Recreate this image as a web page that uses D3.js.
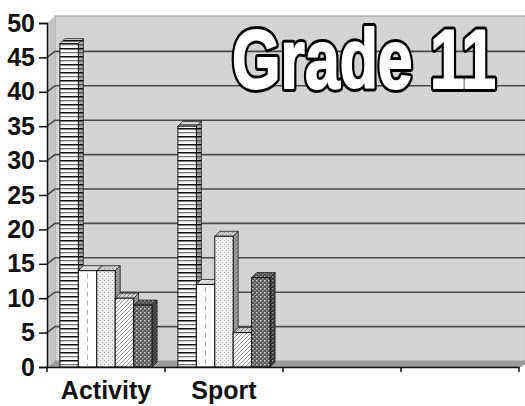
<!DOCTYPE html>
<html>
<head>
<meta charset="utf-8">
<script src="https://cdn.jsdelivr.net/npm/d3@7"></script>
<style>
  body { margin: 0; background: #fff; }
  text { font-family: "Liberation Sans", Arial, sans-serif; }
</style>
</head>
<body>
<div id="chart"></div>
<script>
// Data
var categories = ['Activity', 'Sport', ' ', '  '];
var seriesNames = ['s1', 's2', 's3', 's4', 's5'];
var activityValues = [47, 14, 14, 10, 9];
var sportValues = [35, 12, 19, 5, 13];
var yTicks = [0, 5, 10, 15, 20, 25, 30, 35, 40, 45, 50];
var chartTitle = 'Grade 11';

var dataset = [
  { cat: categories[0], values: activityValues },
  { cat: categories[1], values: sportValues }
];

// Chart Size
var width = 525;
var height = 406;
var plotLeft = 47, plotRight = 519, plotBottom = 367, plotTop = 23;
var wallDx = 8, wallDy = -6;
var barDx = 5, barDy = -5;

var xScale = d3.scaleBand()
               .domain(categories)
               .range([plotLeft, plotRight]);
var x1 = d3.scaleBand()
           .domain(seriesNames)
           .range([0, xScale.bandwidth()])
           .paddingOuter(0.7);
var yScale = d3.scaleLinear()
               .domain([0, 50])
               .range([plotBottom, plotTop]);

var chart = d3.select('#chart')
              .append('svg')
              .attr('width', width)
              .attr('height', height);

// Patterns
var defs = chart.append('defs');

var wall = defs.append('pattern').attr('id', 'wall')
  .attr('patternUnits', 'userSpaceOnUse').attr('width', 2).attr('height', 2);
wall.append('rect').attr('width', 2).attr('height', 2).attr('fill', '#d6d6d6');
wall.append('rect').attr('width', 1).attr('height', 1).attr('fill', '#cdcdcd');

var p1 = defs.append('pattern').attr('id', 'p1')
  .attr('patternUnits', 'userSpaceOnUse').attr('width', 4).attr('height', 8);
p1.append('rect').attr('width', 4).attr('height', 8).attr('fill', '#fff');
p1.append('rect').attr('y', 0).attr('width', 4).attr('height', 1.5).attr('fill', '#111');
p1.append('rect').attr('y', 4).attr('width', 4).attr('height', 1.3).attr('fill', '#777');

var p3 = defs.append('pattern').attr('id', 'p3')
  .attr('patternUnits', 'userSpaceOnUse').attr('width', 4).attr('height', 4);
p3.append('rect').attr('width', 4).attr('height', 4).attr('fill', '#ececec');
p3.append('rect').attr('x', 0).attr('y', 0).attr('width', 1).attr('height', 1).attr('fill', '#aaa');
p3.append('rect').attr('x', 2).attr('y', 2).attr('width', 1).attr('height', 1).attr('fill', '#bbb');

var p4 = defs.append('pattern').attr('id', 'p4')
  .attr('patternUnits', 'userSpaceOnUse').attr('width', 4).attr('height', 4);
p4.append('rect').attr('width', 4).attr('height', 4).attr('fill', '#fafafa');
p4.append('path').attr('d', 'M-1,5 L5,-1 M-1,1 L1,-1 M3,5 L5,3')
  .attr('stroke', '#999').attr('stroke-width', 1);

var p5 = defs.append('pattern').attr('id', 'p5')
  .attr('patternUnits', 'userSpaceOnUse').attr('width', 4).attr('height', 4);
p5.append('rect').attr('width', 4).attr('height', 4).attr('fill', '#5a5a5a');
p5.append('rect').attr('x', 0).attr('y', 0).attr('width', 1.5).attr('height', 1.5).attr('fill', '#d8d8d8');
p5.append('rect').attr('x', 2).attr('y', 2).attr('width', 1.5).attr('height', 1.5).attr('fill', '#a0a0a0');

var fills = ['url(#p1)', '#ffffff', 'url(#p3)', 'url(#p4)', 'url(#p5)'];

// Walls
chart.append('rect')
     .attr('x', plotLeft + wallDx).attr('y', plotTop + wallDy - 1)
     .attr('width', width - plotLeft - wallDx + 5)
     .attr('height', plotBottom - plotTop + 1)
     .attr('fill', 'url(#wall)')
     .attr('stroke', '#9a9a9a');

chart.append('path')
     .attr('d', 'M' + plotLeft + ',' + plotBottom + ' L' + plotLeft + ',' + plotTop +
                ' L' + (plotLeft + wallDx) + ',' + (plotTop + wallDy - 1) +
                ' L' + (plotLeft + wallDx) + ',' + (plotBottom + wallDy) + 'Z')
     .attr('fill', '#c4c4c4');

// Floor
chart.append('path')
     .attr('d', 'M' + plotLeft + ',' + plotBottom + ' L' + (plotLeft + wallDx) + ',' + (plotBottom + wallDy) +
                ' L' + (width + 5) + ',' + (plotBottom + wallDy) + ' L' + (plotRight + 2) + ',' + plotBottom + 'Z')
     .attr('fill', '#9c9c9c');

// Gridlines
yTicks.slice(1, -1).forEach(function(t) {
  chart.append('path')
       .attr('d', 'M' + plotLeft + ',' + yScale(t) + ' L' + (plotLeft + wallDx) + ',' + (yScale(t) + wallDy) +
                  ' L' + width + ',' + (yScale(t) + wallDy))
       .attr('fill', 'none')
       .attr('stroke', '#4a4a4a')
       .attr('stroke-width', 1.6);
});

// Bars
dataset.forEach(function(g) {
  g.values.forEach(function(v, i) {
    var x0 = xScale(g.cat) + x1(seriesNames[i]);
    var w = x1.bandwidth();
    var y0 = yScale(v);
    var bar = chart.append('g');
    var side = 'M' + (x0 + w) + ',' + plotBottom + ' L' + (x0 + w) + ',' + y0 +
               ' L' + (x0 + w + barDx) + ',' + (y0 + barDy) +
               ' L' + (x0 + w + barDx) + ',' + (plotBottom + barDy) + 'Z';
    var topFace = 'M' + x0 + ',' + y0 + ' L' + (x0 + barDx) + ',' + (y0 + barDy) +
                  ' L' + (x0 + w + barDx) + ',' + (y0 + barDy) + ' L' + (x0 + w) + ',' + y0 + 'Z';
    // side face
    bar.append('path').attr('d', side)
       .attr('fill', fills[i]).attr('stroke', '#222').attr('stroke-width', 0.8);
    bar.append('path').attr('d', side)
       .attr('fill', '#000').attr('opacity', 0.35);
    // top face
    bar.append('path').attr('d', topFace)
       .attr('fill', fills[i]).attr('stroke', '#222').attr('stroke-width', 0.8);
    bar.append('path').attr('d', topFace)
       .attr('fill', '#000').attr('opacity', 0.15);
    // front face
    bar.append('rect')
       .attr('x', x0).attr('y', y0)
       .attr('width', w).attr('height', plotBottom - y0)
       .attr('fill', fills[i])
       .attr('stroke', '#111').attr('stroke-width', 1);
    if (i === 1 || i === 2) {
      bar.append('line')
         .attr('x1', x0 + w / 2).attr('x2', x0 + w / 2)
         .attr('y1', y0 + 3).attr('y2', plotBottom)
         .attr('stroke', i === 1 ? '#aaa' : '#fff')
         .attr('stroke-dasharray', '5,4');
    }
  });
});

// Y-Axis
var yAxis = d3.axisLeft(yScale).tickValues(yTicks).tickSize(8).tickPadding(4);
var yg = chart.append('g')
              .attr('transform', 'translate(' + plotLeft + ',0)')
              .call(yAxis);
yg.select('.domain').attr('stroke', '#111').attr('stroke-width', 1.5);
yg.selectAll('.tick line').attr('stroke', '#111').attr('stroke-width', 1.5);
yg.selectAll('.tick text')
  .attr('font-family', 'Liberation Sans, Arial, sans-serif')
  .attr('font-size', 25).attr('font-weight', 'bold').attr('fill', '#111');

// X-Axis
var xAxis = d3.axisBottom(xScale).tickSize(0).tickPadding(14);
var xg = chart.append('g')
              .attr('transform', 'translate(0,' + plotBottom + ')')
              .call(xAxis);
xg.select('.domain').attr('stroke', '#111').attr('stroke-width', 1.5);
xg.selectAll('.tick text')
  .attr('font-family', 'Liberation Sans, Arial, sans-serif')
  .attr('font-size', 25).attr('font-weight', 'bold').attr('fill', '#111');
xg.selectAll('.sep')
  .data(xScale.domain().concat(['end']))
  .enter()
  .append('line')
  .attr('x1', function(d, i) { return plotLeft + i * xScale.step(); })
  .attr('x2', function(d, i) { return plotLeft + i * xScale.step(); })
  .attr('y1', 0).attr('y2', 5)
  .attr('stroke', '#111').attr('stroke-width', 1.5);

// Title (outline underneath, fattened white fill on top)
[{ stroke: '#000', sw: 8 }, { stroke: '#fff', sw: 2 }].forEach(function(s) {
  chart.append('text')
       .attr('x', 232).attr('y', 88)
       .attr('font-family', '"Liberation Sans Narrow", "Arial Narrow", sans-serif')
       .attr('font-size', 84).attr('font-weight', 'bold')
       .attr('textLength', 264).attr('lengthAdjust', 'spacingAndGlyphs')
       .attr('fill', '#fff').attr('stroke', s.stroke).attr('stroke-width', s.sw)
       .attr('stroke-linejoin', 'round')
       .text(chartTitle);
});
</script>
</body>
</html>
